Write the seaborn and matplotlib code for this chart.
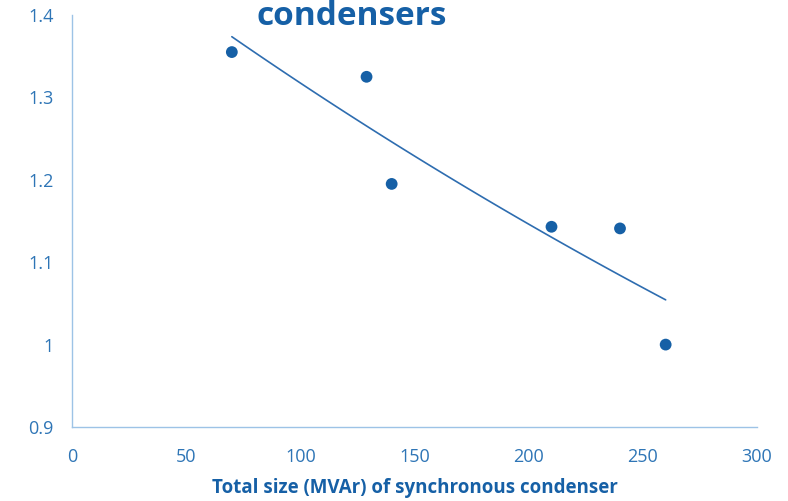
import numpy as np
import pandas as pd
import matplotlib
matplotlib.use("Agg")
import matplotlib.pyplot as plt
import seaborn as sns
from matplotlib.ticker import FuncFormatter

# values
size_mvar = [70, 129, 140, 210, 240, 260]
ratio = [1.355, 1.325, 1.195, 1.143, 1.141, 1.0]
x_ticks = [0, 50, 100, 150, 200, 250, 300]
y_ticks = [0.9, 1.0, 1.1, 1.2, 1.3, 1.4]

df = pd.DataFrame({"size": size_mvar, "ratio": ratio})

# exponential trendline, like the spreadsheet one
b, ln_a = np.polyfit(df["size"], np.log(df["ratio"]), 1)
trend = pd.DataFrame({"size": np.linspace(min(size_mvar), max(size_mvar), 100)})
trend["ratio"] = np.exp(ln_a) * np.exp(b * trend["size"])

sns.set_theme(style="white")
plt.rcParams["font.family"] = ["Open Sans", "DejaVu Sans"]

dark_blue = "#1660a6"
tick_blue = "#2e75b6"
spine_blue = "#9dc3e6"

fig = plt.figure(figsize=(7.88, 5.01), dpi=100)
ax = fig.add_axes([72 / 788, 1 - 427 / 501, 685 / 788, 412 / 501])

sns.lineplot(data=trend, x="size", y="ratio", color="#2e6db0", linewidth=1.2, ax=ax)
sns.scatterplot(data=df, x="size", y="ratio", color=dark_blue, s=72, edgecolor="none", ax=ax, zorder=3)

ax.set_xlim(0, 300)
ax.set_ylim(0.9, 1.4)
ax.set_xticks(x_ticks)
ax.set_yticks(y_ticks)
ax.yaxis.set_major_formatter(FuncFormatter(lambda v, p: f"{v:g}"))
ax.tick_params(axis="both", length=0, labelsize=13, labelcolor=tick_blue)
ax.tick_params(axis="x", pad=15)
ax.tick_params(axis="y", pad=13)

for side in ["top", "right"]:
    ax.spines[side].set_visible(False)
for side in ["left", "bottom"]:
    ax.spines[side].set_color(spine_blue)
    ax.spines[side].set_linewidth(1)

ax.set_ylabel("")
ax.set_xlabel("Total size (MVAr) of synchronous condenser", fontsize=13.5,
              fontweight="bold", color=dark_blue, labelpad=9)

# title sits at the very top edge, as in the reference
fig.text(352 / 788, 1 - 25 / 501, "condensers", fontsize=24, fontweight="bold",
         color=dark_blue, ha="center", va="baseline")

fig.savefig("out.png", dpi=100)
